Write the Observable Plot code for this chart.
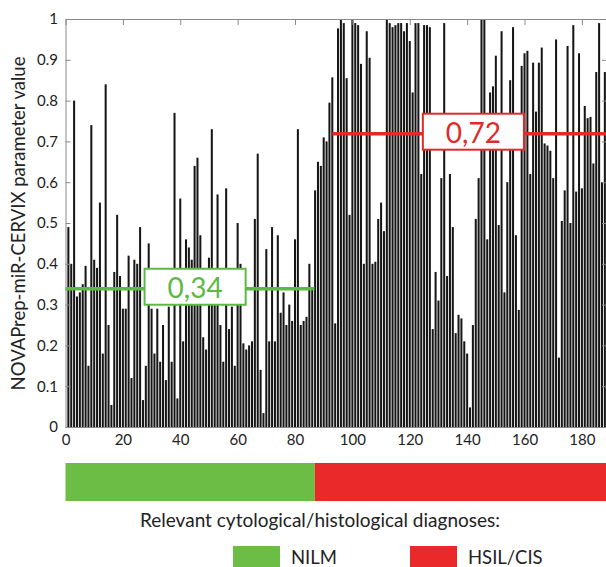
<!DOCTYPE html>
<html><head><meta charset="utf-8">
<script src="https://cdn.jsdelivr.net/npm/d3@7"></script>
<script src="https://cdn.jsdelivr.net/npm/@observablehq/plot@0.6"></script>
<style>
html,body{margin:0;padding:0;background:#fff;}
body{width:606px;height:567px;overflow:hidden;position:relative;font-family:Lato,"Open Sans",sans-serif;color:#222;}
#chart{position:absolute;left:0;top:0;}
#band{position:absolute;left:0;top:452px;}
#caption{position:absolute;left:34px;width:572px;top:508px;text-align:center;font-size:19px;color:#222;}
.leg{position:absolute;top:546px;display:flex;align-items:center;font-size:18.5px;color:#222;}
.sw{width:47px;height:22px;margin-right:11px;}
</style></head><body>
<div id="chart"></div>
<div id="band"></div>
<div id="caption">Relevant cytological/histological diagnoses:</div>
<div id="legend"></div>
<script>
// ---- data ----
const values = [
0.49,0.40,0.80,0.32,0.33,0.35,0.395,0.15,0.74,0.41,
0.39,0.55,0.18,0.84,0.25,0.054,0.38,0.52,0.37,0.29,
0.29,0.42,0.12,0.41,0.40,0.49,0.066,0.15,0.45,0.29,
0.18,0.29,0.16,0.25,0.115,0.295,0.16,0.77,0.07,0.56,
0.21,0.46,0.44,0.41,0.64,0.66,0.47,0.22,0.19,0.415,
0.73,0.30,0.57,0.25,0.16,0.585,0.24,0.295,0.15,0.50,
0.40,0.205,0.19,0.20,0.21,0.51,0.67,0.14,0.034,0.436,
0.21,0.49,0.21,0.47,0.28,0.33,0.25,0.30,0.26,0.46,
0.73,0.25,0.26,0.27,0.40,0.34,0.58,0.65,0.64,0.71,
0.70,0.795,0.857,0.254,0.977,1.0,0.99,0.855,0.52,1.0,
0.99,0.985,0.89,0.40,0.97,0.905,0.40,0.405,0.51,0.55,
0.48,1.0,0.99,0.98,0.985,0.99,0.99,0.97,0.99,0.946,
0.82,0.99,0.99,0.62,0.985,0.985,0.98,0.24,0.38,0.31,
0.61,0.99,0.37,0.62,0.49,0.23,0.275,0.266,0.21,0.18,
0.048,0.25,0.51,0.61,1.0,1.0,0.46,0.82,0.835,0.91,
0.495,0.97,0.33,0.60,0.85,0.98,0.47,0.287,0.885,0.916,
0.922,0.62,0.893,0.773,0.893,0.93,0.695,0.69,0.677,0.61,
0.95,0.17,0.505,0.58,0.934,0.50,0.985,0.577,0.916,0.585,
0.787,0.757,0.76,0.646,0.87,0.99,0.60,0.87
];
const samples = values.map((_, i) => i + 1);

const groupNames = ["NILM", "HSIL/CIS"];
const groupStart = [0, 86.9];
const groupEnd = [86.9, 188.4];
const groupColors = ["#6cbd45", "#ea2a2a"];
const groupLineColors = ["#5cb946", "#e02b2b"];
const groupMeans = [0.34, 0.72];
const meanLabels = ["0,34", "0,72"];
const meanLineStart = [0, 93];
const meanLineEnd = [86.8, 188.4];
const meanLabelAt = [45, 142];

const xTicks = [0, 20, 40, 60, 80, 100, 120, 140, 160, 180];
const yTicks = [0, 0.1, 0.2, 0.3, 0.4, 0.5, 0.6, 0.7, 0.8, 0.9, 1];
const yLabel = "NOVAPrep-miR-CERVIX parameter value";
const xDomain = [0, 188.4];

// ---- chart ----
const idx = d3.range(values.length);
const gIdx = d3.range(groupNames.length);
const frameColor = "#8a8a8a";
const fmtY = d => String(Math.round(d * 10) / 10);

const chart = Plot.plot({
  width: 606, height: 452,
  marginLeft: 65.5, marginRight: 0, marginTop: 19, marginBottom: 25,
  x: {domain: xDomain},
  y: {domain: [0, 1]},
  style: {fontFamily: "Lato, 'Open Sans', sans-serif", fontSize: "15px", color: "#222", background: "transparent"},
  marks: [
    Plot.rectY(idx, {x1: i => samples[i] - 0.5, x2: i => samples[i] + 0.5, y: i => values[i], fill: "#161616", insetLeft: 0.42, insetRight: 0.42}),
    Plot.frame({stroke: frameColor}),
    Plot.axisY(yTicks, {anchor: "left", tickSize: 5, dx: 5, fill: "none", stroke: frameColor, label: null}),
    Plot.axisY(yTicks, {anchor: "right", tickSize: 5, dx: -5, fill: "none", stroke: frameColor, label: null}),
    Plot.axisX(xTicks, {anchor: "top", tickSize: 5, dy: 5, fill: "none", stroke: frameColor, label: null}),
    Plot.axisY(yTicks, {anchor: "left", tickSize: 0, tickPadding: 8, stroke: "none", fill: "#222", tickFormat: fmtY, label: null}),
    Plot.axisX(xTicks, {anchor: "bottom", tickSize: 0, tickPadding: 7, stroke: "none", fill: "#222", label: null}),
    Plot.text([yLabel], {frameAnchor: "left", textAnchor: "middle", rotate: -90, dx: -47, fontSize: 18.5, fill: "#222"}),
    Plot.ruleY(gIdx, {y: i => groupMeans[i], x1: i => meanLineStart[i], x2: i => meanLineEnd[i], stroke: i => groupLineColors[i], strokeWidth: 3.5}),
    Plot.text(gIdx, {x: i => meanLabelAt[i], y: i => groupMeans[i], text: i => meanLabels[i], fill: i => groupLineColors[i], fontSize: 28})
  ]
});
document.getElementById("chart").appendChild(chart);

// white boxes framing the mean labels
const SVGNS = "http://www.w3.org/2000/svg";
chart.querySelectorAll("text").forEach(t => {
  const i = meanLabels.indexOf(t.textContent.trim());
  if (i < 0) return;
  const b = t.getBBox();
  const padX = 23, padY = 1;
  const r = document.createElementNS(SVGNS, "rect");
  r.setAttribute("x", b.x - padX);
  r.setAttribute("y", b.y - padY);
  r.setAttribute("width", b.width + 2 * padX);
  r.setAttribute("height", b.height + 2 * padY);
  r.setAttribute("fill", "#fff");
  r.setAttribute("stroke", groupLineColors[i]);
  r.setAttribute("stroke-width", 2);
  if (t.getAttribute("transform")) r.setAttribute("transform", t.getAttribute("transform"));
  t.parentNode.insertBefore(r, t);
});

// ---- diagnosis band ----
const band = Plot.plot({
  width: 606, height: 60,
  marginLeft: 65.5, marginRight: 0, marginTop: 11, marginBottom: 11,
  x: {domain: xDomain, axis: null},
  y: {domain: [0, 1], axis: null},
  style: {background: "transparent"},
  marks: [
    Plot.rect(gIdx, {x1: i => groupStart[i], x2: i => groupEnd[i], y1: 0, y2: 1, fill: i => groupColors[i]})
  ]
});
document.getElementById("band").appendChild(band);

// ---- legend ----
const legendLeft = [233, 410];
const legend = document.getElementById("legend");
groupNames.forEach((name, i) => {
  const item = document.createElement("div");
  item.className = "leg";
  item.style.left = legendLeft[i] + "px";
  const sw = document.createElement("div");
  sw.className = "sw";
  sw.style.background = groupColors[i];
  const lab = document.createElement("span");
  lab.textContent = name;
  item.appendChild(sw); item.appendChild(lab);
  legend.appendChild(item);
});
</script>
</body></html>
